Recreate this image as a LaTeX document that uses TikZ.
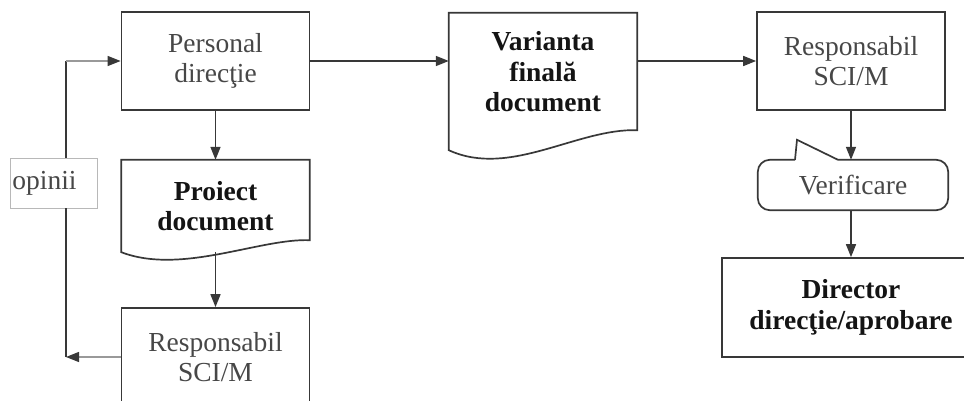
\documentclass[tikz,border=0pt]{standalone}
\usepackage{fontspec}
\setmainfont{Liberation Serif}
\usetikzlibrary{arrows.meta,positioning}
\colorlet{linegray}{black!78}
\colorlet{txtgray}{black!72}
\newcommand{\fsz}{\fontsize{27.5}{30.5}\selectfont}
\tikzstyle{box}=[draw=linegray,line width=1.7pt,minimum width=188pt,
  minimum height=98pt,align=center,text=txtgray]
\tikzstyle{doc}=[minimum width=188pt,align=center,text=black!92,
  font=\fsz\bfseries]
\tikzstyle{note}=[draw=black!28,line width=0.8pt,anchor=west,text width=83pt,
  inner xsep=2pt,minimum height=50pt,align=left,text=txtgray]
\tikzstyle{outline}=[draw=linegray,line width=1.7pt]
\tikzstyle{flow}=[->,linegray,line width=1.5pt]
\tikzstyle{back}=[-{Triangle[length=13pt,width=10pt,color=linegray]},black!40,
  line width=1.2pt]

\begin{document}
\begin{tikzpicture}[x=1pt, y=-1pt, on grid, font=\fsz,
    >={Triangle[length=13pt,width=10pt]}]
  \useasboundingbox (0,0) rectangle (964,401);
  \clip (0,0) rectangle (964,401);

  \node[box]                                    (pers)  at (215.5,61) {Personal\\direcţie};
  \node[doc, minimum height=92pt, below=145pt of pers] (proj) {Proiect\\document};
  \node[box, below=151pt of proj]               (resp1) {Responsabil\\SCI/M};
  \node[doc, minimum height=118pt, below right=11pt and 327.5pt of pers] (var)
    {Varianta\\finală\\document};
  \node[box, right=635.5pt of pers]             (resp2) {Responsabil\\SCI/M};
  \node[minimum width=190pt, minimum height=50pt, text=txtgray,
    below right=124pt and 2pt of resp2]         (verif) {Verificare};
  \node[box, minimum width=258pt, minimum height=99pt, text=black!92,
    font=\fsz\bfseries, below left=122.5pt and 2pt of verif] (dir)
    {Director\\direcţie/aprobare};
  \node[note]                                   (opin)  at (10,183) {opinii};

  % document outlines
  \draw[outline] (proj.north west) -- (proj.north east) --
    ([yshift=12pt]proj.south east) .. controls +(-50pt,2pt) and +(60pt,-23pt)
    .. (proj.south west) -- cycle;
  \draw[outline] (var.north west) -- (var.north east) --
    ([yshift=1pt]var.south east) .. controls +(-60pt,2pt) and +(61pt,-28pt)
    .. ([yshift=-19pt]var.south west) -- cycle;
  \draw[outline] ([xshift=-58pt]verif.north) -- ++(2pt,20pt) --
    ([xshift=-15pt]verif.north) [rounded corners=12pt] -- (verif.north east)
    -- (verif.south east) -- (verif.south west) -- (verif.north west) --
    ([xshift=-58pt]verif.north);

  \draw[flow] (pers) -- (proj);
  \draw[flow] (proj) -- (resp1);
  \draw[flow] (pers.east) -- (pers.east -| var.west);
  \draw[flow] (var.east |- resp2.west) -- (resp2.west);
  \draw[flow] (resp2.south) -- (resp2.south |- verif.north);
  \draw[flow] (verif.south -| dir.north) -- (dir.north);

  % opinii loop
  \coordinate (lt) at (66,61);
  \draw[back] (resp1.west) -- (lt |- resp1.west);
  \draw[linegray, line width=1.2pt] (lt |- resp1.west) -- (lt |- opin.south)
    (lt |- opin.north) -- (lt);
  \draw[back] (lt) -- (pers.west);
\end{tikzpicture}
\end{document}
